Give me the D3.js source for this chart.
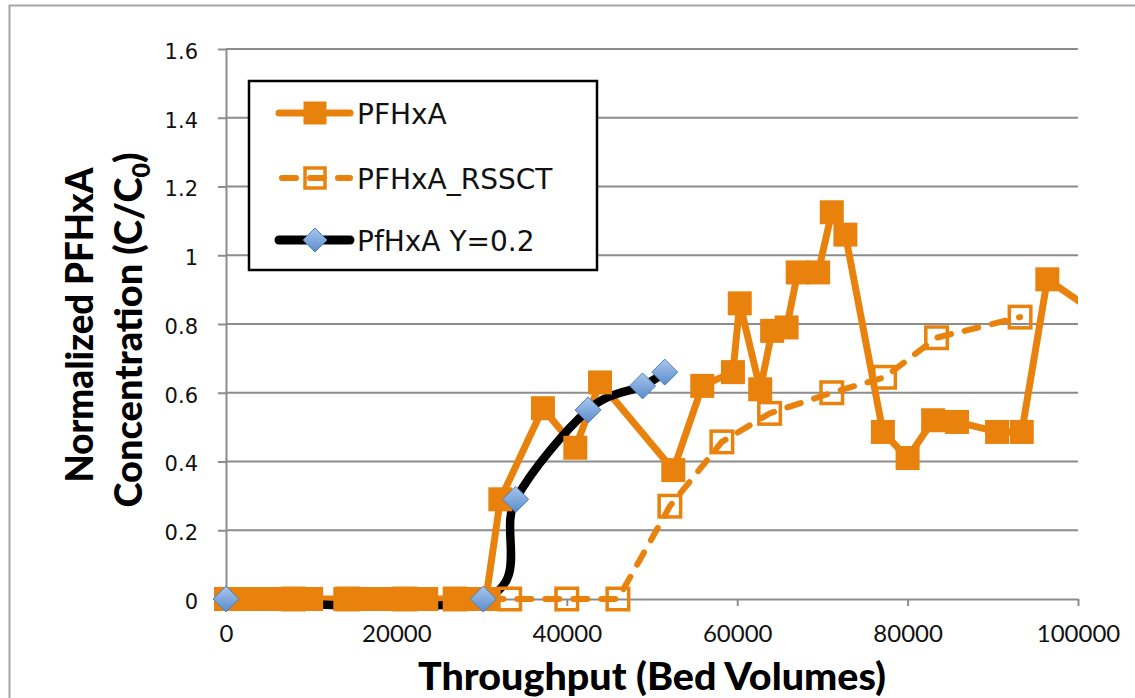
<!DOCTYPE html>
<html>
<head>
<meta charset="utf-8">
<script src="https://cdn.jsdelivr.net/npm/d3@7"></script>
<style>
  body { margin: 0; background: #fff; }
  svg { display: block; }
</style>
</head>
<body>
<svg id="chart" width="1135" height="698"></svg>
<script>
// ---- data ---------------------------------------------------------------
// Column breakthrough, throughput in bed volumes vs. normalized C/C0
const pfhxaX = [0, 1500, 3500, 5500, 7500, 10000, 14000, 16500, 19000, 21500, 23500,
                27000, 29000, 30500, 32200, 37200, 41000, 43900, 52500, 55900, 59500,
                60300, 62700, 64100, 65800, 67100, 69500, 71100, 72700, 77100, 80000,
                83000, 85800, 90500, 93400, 96400, 104000];
const pfhxaY = [0, 0, 0, 0, 0, 0, 0, 0, 0, 0, 0,
                0, 0, 0, 0.29, 0.555, 0.44, 0.63, 0.375, 0.62, 0.66,
                0.86, 0.61, 0.78, 0.79, 0.95, 0.95, 1.125, 1.06, 0.486, 0.41,
                0.52, 0.515, 0.486, 0.486, 0.93, 0.80];

// Rapid small-scale column test
const rssctX = [7900, 14300, 21000, 26900, 33300, 40000, 46000, 52100, 58200,
                63800, 71100, 77300, 83400, 93200];
const rssctY = [0, 0, 0, 0, 0, 0, 0, 0.27, 0.457,
                0.54, 0.60, 0.645, 0.76, 0.82];

// Model fit
const modelX = [0, 30200, 34000, 42500, 48900, 51500];
const modelY = [0, 0, 0.29, 0.55, 0.62, 0.66];

const xTicks = [0, 20000, 40000, 60000, 80000, 100000];
const yTicks = [0, 0.2, 0.4, 0.6, 0.8, 1, 1.2, 1.4, 1.6];
const seriesNames = ["PFHxA", "PFHxA_RSSCT", "PfHxA Y=0.2"];

// ---- setup ------------------------------------------------------------------
const ORANGE = "#E9820C";
const GRID = "#8c8c8c";
const svg = d3.select("#chart");

const x = d3.scaleLinear().domain([0, 100000]).range([226, 1078]);
const y = d3.scaleLinear().domain([0, 1.6]).range([599, 49]);

const defs = svg.append("defs");
defs.append("clipPath").attr("id", "plotClip")
  .append("rect").attr("x", 0).attr("y", 0).attr("width", x(100000)).attr("height", 698);
const grad = defs.append("linearGradient").attr("id", "diamondFill")
  .attr("x1", 0).attr("y1", 0).attr("x2", 0).attr("y2", 1);
grad.append("stop").attr("offset", "0%").attr("stop-color", "#a9c6ec");
grad.append("stop").attr("offset", "100%").attr("stop-color", "#5b8dcc");

// chart frame
svg.append("rect")
  .attr("x", 9.5).attr("y", 5.5).attr("width", 1140).attr("height", 710)
  .attr("fill", "#fff").attr("stroke", "#a6a6a6").attr("stroke-width", 2);

// horizontal gridlines
svg.append("g").selectAll("line")
  .data(yTicks.filter(d => d > 0))
  .join("line")
  .attr("x1", x(0)).attr("x2", x(100000))
  .attr("y1", d => y(d)).attr("y2", d => y(d))
  .attr("stroke", GRID).attr("stroke-width", 2);

// y axis
const yAxis = svg.append("g")
  .attr("transform", `translate(${x(0)},0)`)
  .call(d3.axisLeft(y).tickValues(yTicks).tickSize(8).tickSizeOuter(0).tickPadding(20)
        .tickFormat(d => String(+d.toFixed(1))));
yAxis.select(".domain").attr("stroke", GRID).attr("stroke-width", 2);
yAxis.selectAll(".tick line").attr("stroke", GRID).attr("stroke-width", 2);
yAxis.selectAll(".tick text")
  .attr("dy", "0.45em")
  .style("font-family", "'DejaVu Sans', Verdana, sans-serif")
  .style("font-size", "21px").attr("fill", "#111");

// x axis
const xAxis = svg.append("g")
  .attr("transform", `translate(0,${y(0)})`)
  .call(d3.axisBottom(x).tickValues(xTicks).tickSize(7).tickSizeOuter(0)
        .tickFormat(d3.format("d")));
xAxis.select(".domain").attr("stroke", GRID).attr("stroke-width", 2);
xAxis.selectAll(".tick line").attr("stroke", GRID).attr("stroke-width", 2);
xAxis.selectAll(".tick text")
  .attr("y", 43).attr("dy", 0)
  .style("font-family", "Lato, 'Open Sans', sans-serif")
  .style("font-size", "24px").attr("fill", "#111");

// axis titles
svg.append("text")
  .attr("x", (x(0) + x(100000)) / 2).attr("y", 690)
  .attr("text-anchor", "middle")
  .attr("textLength", 468).attr("lengthAdjust", "spacingAndGlyphs")
  .style("font-family", "Lato, sans-serif").style("font-weight", 900)
  .style("font-size", "38px")
  .text("Throughput (Bed Volumes)");

svg.append("text")
  .attr("transform", "translate(93,325) rotate(-90)")
  .attr("text-anchor", "middle")
  .attr("textLength", 315).attr("lengthAdjust", "spacingAndGlyphs")
  .style("font-family", "Lato, sans-serif").style("font-weight", 900)
  .style("font-size", "38px")
  .text("Normalized PFHxA");

const yt2 = svg.append("text")
  .attr("transform", "translate(142,330) rotate(-90)")
  .attr("text-anchor", "middle")
  .style("font-family", "Lato, sans-serif").style("font-weight", 900)
  .style("font-size", "38px");
yt2.append("tspan").text("Concentration (C/C");
yt2.append("tspan").attr("dy", 8).style("font-size", "25px").text("0");
yt2.append("tspan").attr("dy", -8).text(")");

// ---- series -----------------------------------------------------------------
const plot = svg.append("g").attr("clip-path", "url(#plotClip)");

const pfhxa = pfhxaX.map((v, i) => [v, pfhxaY[i]]);
const rssct = rssctX.map((v, i) => [v, rssctY[i]]);
const model = modelX.map((v, i) => [v, modelY[i]]);

const lineLin = d3.line().x(d => x(d[0])).y(d => y(d[1]));
const lineSmooth = d3.line().x(d => x(d[0])).y(d => y(d[1])).curve(d3.curveCardinal.tension(0));

// lines
plot.append("path").attr("d", lineLin(rssct))
  .attr("fill", "none").attr("stroke", ORANGE).attr("stroke-width", 6)
  .attr("stroke-dasharray", "14,14").attr("stroke-linecap", "round");
plot.append("path").attr("d", lineLin(pfhxa))
  .attr("fill", "none").attr("stroke", ORANGE).attr("stroke-width", 7)
  .attr("stroke-linejoin", "round");
plot.append("path").attr("d", lineSmooth(model))
  .attr("fill", "none").attr("stroke", "#000").attr("stroke-width", 8.5)
  .attr("stroke-linecap", "round");

// markers
const SQ = 24, HS = 21.5, DM = 13;
plot.append("g").selectAll("rect").data(pfhxa).join("rect")
  .attr("x", d => x(d[0]) - SQ / 2).attr("y", d => y(d[1]) - SQ / 2)
  .attr("width", SQ).attr("height", SQ).attr("fill", ORANGE);
plot.append("g").selectAll("rect").data(rssct).join("rect")
  .attr("x", d => x(d[0]) - HS / 2).attr("y", d => y(d[1]) - HS / 2)
  .attr("width", HS).attr("height", HS)
  .attr("fill", "none").attr("stroke", ORANGE).attr("stroke-width", 3.5);
const diamondPath = (cx, cy, r) => `M${cx},${cy - r}L${cx + r},${cy}L${cx},${cy + r}L${cx - r},${cy}Z`;
plot.append("g").selectAll("path").data(model).join("path")
  .attr("d", d => diamondPath(x(d[0]), y(d[1]), DM))
  .attr("fill", "url(#diamondFill)").attr("stroke", "#4f7fbd").attr("stroke-width", 1);

// ---- legend -----------------------------------------------------------------
const legend = svg.append("g");
legend.append("rect")
  .attr("x", 249).attr("y", 81).attr("width", 348).attr("height", 189)
  .attr("fill", "#fff").attr("stroke", "#000").attr("stroke-width", 2.5);

const rowY = [113, 178, 240];
seriesNames.forEach((name, i) => {
  const g = legend.append("g").attr("transform", `translate(0,${rowY[i]})`);
  const ln = g.append("line").attr("x1", 279).attr("x2", 350).attr("y1", 0).attr("y2", 0)
    .attr("stroke-linecap", "round");
  if (i === 0) {
    ln.attr("stroke", ORANGE).attr("stroke-width", 7);
    g.append("rect").attr("x", 315 - 11.5).attr("y", -11.5).attr("width", 23).attr("height", 23)
      .attr("fill", ORANGE);
  } else if (i === 1) {
    ln.attr("stroke", ORANGE).attr("stroke-width", 6).attr("stroke-dasharray", "14,14")
      .attr("x1", 282);
    g.append("rect").attr("x", 315 - 10).attr("y", -10).attr("width", 20).attr("height", 20)
      .attr("fill", "none").attr("stroke", ORANGE).attr("stroke-width", 3.5);
  } else {
    ln.attr("stroke", "#000").attr("stroke-width", 9);
    g.append("path").attr("d", diamondPath(315, 0, 12))
      .attr("fill", "url(#diamondFill)").attr("stroke", "#4f7fbd").attr("stroke-width", 1);
  }
  g.append("text").attr("x", 357).attr("y", 11)
    .style("font-family", "'DejaVu Sans', Verdana, sans-serif")
    .style("font-size", "28px").attr("fill", "#111")
    .text(name);
});
</script>
</body>
</html>
